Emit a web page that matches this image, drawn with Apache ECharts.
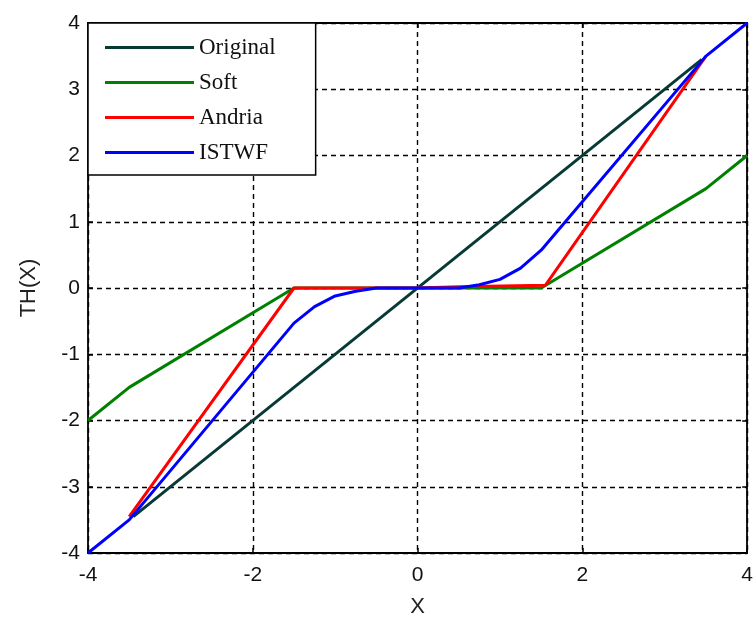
<!DOCTYPE html>
<html>
<head>
<meta charset="utf-8">
<script src="https://cdn.jsdelivr.net/npm/echarts@6/dist/echarts.min.js"></script>
<style>
html,body{margin:0;padding:0;background:#fff;}
#chart{width:756px;height:623px;}
</style>
</head>
<body>
<div id="chart"></div>
<script>
// ---- data ----
const seriesNames = ['Original', 'Soft', 'Andria', 'ISTWF'];
const xTicks = [-4, -2, 0, 2, 4];
const yTicks = [-4, -3, -2, -1, 0, 1, 2, 3, 4];

const original = [[-3.45, -3.45], [3.45, 3.45]];
const soft = [[-4, -2], [-3.5, -1.5], [-1.5, 0], [1.5, 0], [3.5, 1.5], [4, 2]];
const andria = [[-3.5, -3.45], [-1.5, 0], [-0.5, 0], [0, 0], [0.5, 0.02], [1.55, 0.04], [3.5, 3.5]];
const istwf = [[-4, -4], [-3.5, -3.5], [-1.5, -0.53], [-1.25, -0.28], [-1.0, -0.12], [-0.75, -0.05], [-0.5, 0],
               [0, 0], [0.5, 0], [0.75, 0.05], [1.0, 0.13], [1.25, 0.3], [1.5, 0.57], [3.5, 3.5], [4, 4]];

const colors = ['#083a35', '#008000', '#ff0000', '#0000ff'];

const chart = echarts.init(document.getElementById('chart'), null, {renderer: 'canvas'});

const gridDash = {type: [5, 4], color: '#000', width: 1.4};
const tickFont = {fontFamily: 'Liberation Sans, Arial, sans-serif', fontSize: 21, color: '#111'};

function mkSeries(name, data, color) {
  return {
    name: name, type: 'line', data: data, symbol: 'none', smooth: false,
    lineStyle: {color: color, width: 3}, itemStyle: {color: color},
    xAxisIndex: 0, yAxisIndex: 0, animation: false
  };
}

chart.setOption({
  animation: false,
  backgroundColor: '#fff',
  grid: {left: 88, right: 3, top: 23, bottom: 67, containLabel: false},
  xAxis: [{
    type: 'value', min: -4, max: 4, interval: 2, position: 'bottom',
    name: 'X', nameLocation: 'middle', nameGap: 43,
    nameTextStyle: {fontFamily: 'Liberation Sans, Arial, sans-serif', fontSize: 22, color: '#222'},
    axisLine: {show: true, onZero: false, lineStyle: {color: '#000', width: 1.8}},
    axisTick: {show: true, inside: true, length: 5, lineStyle: {color: '#000', width: 1.5}},
    axisLabel: Object.assign({margin: 12, formatter: v => String(v)}, tickFont),
    splitLine: {show: true, lineStyle: gridDash}
  }, {
    type: 'value', min: -4, max: 4, interval: 2, position: 'top',
    axisLine: {show: true, onZero: false, lineStyle: {color: '#000', width: 1.8}},
    axisTick: {show: true, inside: true, length: 5, lineStyle: {color: '#000', width: 1.5}},
    axisLabel: {show: false}, splitLine: {show: false}
  }],
  yAxis: [{
    type: 'value', min: -4, max: 4, interval: 1, position: 'left',
    name: 'TH(X)', nameLocation: 'middle', nameGap: 48, nameRotate: 90,
    nameTextStyle: {fontFamily: 'Liberation Sans, Arial, sans-serif', fontSize: 22, color: '#222'},
    axisLine: {show: true, onZero: false, lineStyle: {color: '#000', width: 1.8}},
    axisTick: {show: true, inside: true, length: 5, lineStyle: {color: '#000', width: 1.5}},
    axisLabel: Object.assign({margin: 8, formatter: v => String(v)}, tickFont),
    splitLine: {show: true, lineStyle: gridDash}
  }, {
    type: 'value', min: -4, max: 4, interval: 1, position: 'right',
    axisLine: {show: true, onZero: false, lineStyle: {color: '#000', width: 1.8}},
    axisTick: {show: true, inside: true, length: 5, lineStyle: {color: '#000', width: 1.5}},
    axisLabel: {show: false}, splitLine: {show: false}
  }],
  legend: {
    data: seriesNames,
    orient: 'vertical', left: 88, top: 23,
    backgroundColor: '#fff', borderColor: '#000', borderWidth: 1.5, borderRadius: 0,
    padding: [13, 40, 11, 17],
    itemWidth: 89, itemHeight: 14, itemGap: 12,
    icon: 'path://M0,5.5 L89,5.5 L89,8.5 L0,8.5 Z',
    textStyle: {fontFamily: 'Liberation Serif, Times New Roman, serif', fontSize: 23, color: '#111', lineHeight: 22},
    selectedMode: false
  },
  series: [
    mkSeries(seriesNames[0], original, colors[0]),
    mkSeries(seriesNames[1], soft, colors[1]),
    mkSeries(seriesNames[2], andria, colors[2]),
    mkSeries(seriesNames[3], istwf, colors[3])
  ]
});
</script>
</body>
</html>
